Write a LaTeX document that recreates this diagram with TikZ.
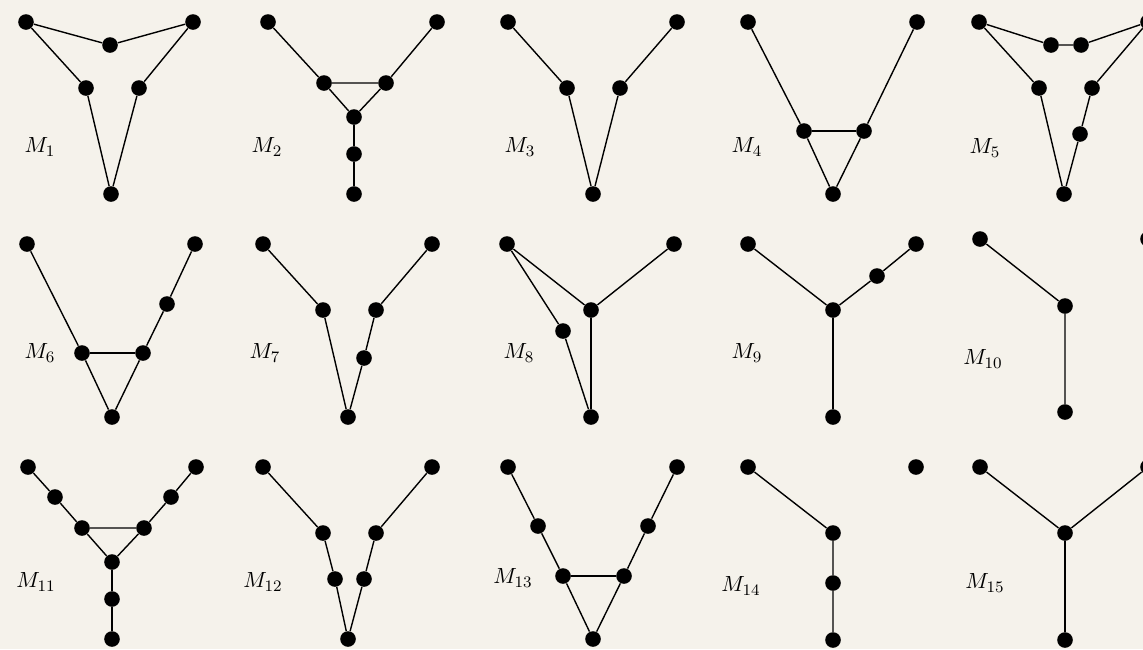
\documentclass[tikz,border=0pt]{standalone}
\usepackage{amsmath,amssymb}
\usepackage{xcolor}
\usepackage{tikz}
\usetikzlibrary{positioning}

\definecolor{paper}{RGB}{245,242,235}

\tikzset{
  vtx/.style={circle, fill=black, inner sep=0pt, minimum size=7.8pt},
  gline/.style={line width=0.7pt},
  lbl/.style={font=\fontsize{11}{13}\selectfont, inner sep=0pt}
}

\begin{document}
\begin{tikzpicture}[x=0.5pt, y=-0.5pt]
        % Paper and frame
        \fill[paper] (0,0) rectangle (1143,649);
        \useasboundingbox (0,0) rectangle (1143,649);
        \clip (0,0) rectangle (1143,649);

        % M1
        \node[vtx] (a1) at (26,22) {};
        \node[vtx] (a2) at (110,45) {};
        \node[vtx] (a3) at (193,22) {};
        \node[vtx] (a4) at (86,88) {};
        \node[vtx] (a5) at (139,88) {};
        \node[vtx] (a6) at (111,194) {};
        \draw[gline] (a1) -- (a2) -- (a3);
        \draw[gline] (a1) -- (a4) -- (a6);
        \draw[gline] (a3) -- (a5) -- (a6);
        \node[lbl] (m1) at (40,147) {$M_1$};

        % M2
        \node[vtx] (b1) at (268,22) {};
        \node[vtx] (b2) at (437,22) {};
        \node[vtx] (b3) at (324,83) {};
        \node[vtx] (b4) at (386,83) {};
        \node[vtx] (b5) at (354,117) {};
        \node[vtx] (b6) at (354,154) {};
        \node[vtx] (b7) at (354,194) {};
        \draw[gline] (b1) -- (b3) -- (b4) -- (b2);
        \draw[gline] (b3) -- (b5) -- (b4);
        \draw[gline] (b5) -- (b6) -- (b7);
        \node[lbl] (m2) at (267,147) {$M_2$};

        % M3
        \node[vtx] (c1) at (508,22) {};
        \node[vtx] (c2) at (677,22) {};
        \node[vtx] (c3) at (567,88) {};
        \node[vtx] (c4) at (620,88) {};
        \node[vtx] (c5) at (593,194) {};
        \draw[gline] (c1) -- (c3) -- (c5) -- (c4) -- (c2);
        \node[lbl] (m3) at (520,147) {$M_3$};

        % M4
        \node[vtx] (d1) at (748,22) {};
        \node[vtx] (d2) at (917,22) {};
        \node[vtx] (d3) at (804,131) {};
        \node[vtx] (d4) at (864,131) {};
        \node[vtx] (d5) at (833,194) {};
        \draw[gline] (d1) -- (d3) -- (d5) -- (d4) -- (d2);
        \draw[gline] (d3) -- (d4);
        \node[lbl] (m4) at (747,147) {$M_4$};

        % M5
        \node[vtx] (e1) at (979,22) {};
        \node[vtx] (e2) at (1051,45) {};
        \node[vtx] (e3) at (1081,45) {};
        \node[vtx] (e4) at (1148,22) {};
        \node[vtx] (e5) at (1039,88) {};
        \node[vtx] (e6) at (1092,88) {};
        \node[vtx] (e7) at (1080,134) {};
        \node[vtx] (e8) at (1064,194) {};
        \draw[gline] (e1) -- (e2) -- (e3) -- (e4);
        \draw[gline] (e1) -- (e5) -- (e8);
        \draw[gline] (e4) -- (e6) -- (e7) -- (e8);
        \node[lbl] (m5) at (985,148) {$M_5$};

        % M6
        \node[vtx] (f1) at (27,244) {};
        \node[vtx] (f2) at (195,244) {};
        \node[vtx] (f3) at (167,304) {};
        \node[vtx] (f4) at (82,353) {};
        \node[vtx] (f5) at (143,353) {};
        \node[vtx] (f6) at (112,417) {};
        \draw[gline] (f1) -- (f4) -- (f6) -- (f5) -- (f3) -- (f2);
        \draw[gline] (f4) -- (f5);
        \node[lbl] (m6) at (40,353) {$M_6$};

        % M7
        \node[vtx] (g1) at (263,244) {};
        \node[vtx] (g2) at (432,244) {};
        \node[vtx] (g3) at (323,310) {};
        \node[vtx] (g4) at (376,310) {};
        \node[vtx] (g5) at (364,358) {};
        \node[vtx] (g6) at (348,417) {};
        \draw[gline] (g1) -- (g3) -- (g6) -- (g5) -- (g4) -- (g2);
        \node[lbl] (m7) at (265,353) {$M_7$};

        % M8
        \node[vtx] (h1) at (507,244) {};
        \node[vtx] (h2) at (674,244) {};
        \node[vtx] (h3) at (591,310) {};
        \node[vtx] (h4) at (563,331) {};
        \node[vtx] (h5) at (591,417) {};
        \draw[gline] (h1) -- (h3) -- (h2);
        \draw[gline] (h3) -- (h5);
        \draw[gline] (h1) -- (h4) -- (h5);
        \node[lbl] (m8) at (519,353) {$M_8$};

        % M9
        \node[vtx] (i1) at (748,244) {};
        \node[vtx] (i2) at (916,244) {};
        \node[vtx] (i3) at (877,276) {};
        \node[vtx] (i4) at (833,310) {};
        \node[vtx] (i5) at (833,417) {};
        \draw[gline] (i1) -- (i4) -- (i3) -- (i2);
        \draw[gline] (i4) -- (i5);
        \node[lbl] (m9) at (747,353) {$M_9$};

        % M10
        \node[vtx] (j1) at (980,239) {};
        \node[vtx] (j2) at (1148,239) {};
        \node[vtx] (j3) at (1065,306) {};
        \node[vtx] (j4) at (1065,412) {};
        \draw[gline] (j1) -- (j3) -- (j4);
        \node[lbl] (m10) at (983,359) {$M_{10}$};

        % M11
        \node[vtx] (k1) at (28,467) {};
        \node[vtx] (k2) at (196,467) {};
        \node[vtx] (k3) at (55,497) {};
        \node[vtx] (k4) at (171,497) {};
        \node[vtx] (k5) at (82,528) {};
        \node[vtx] (k6) at (144,528) {};
        \node[vtx] (k7) at (112,562) {};
        \node[vtx] (k8) at (112,599) {};
        \node[vtx] (k9) at (112,639) {};
        \draw[gline] (k1) -- (k3) -- (k5) -- (k6) -- (k4) -- (k2);
        \draw[gline] (k5) -- (k7) -- (k6);
        \draw[gline] (k7) -- (k8) -- (k9);
        \node[lbl] (m11) at (36,582) {$M_{11}$};

        % M12
        \node[vtx] (l1) at (263,467) {};
        \node[vtx] (l2) at (432,467) {};
        \node[vtx] (l3) at (323,533) {};
        \node[vtx] (l4) at (376,533) {};
        \node[vtx] (l5) at (335,579) {};
        \node[vtx] (l6) at (364,579) {};
        \node[vtx] (l7) at (348,639) {};
        \draw[gline] (l1) -- (l3) -- (l5) -- (l7) -- (l6) -- (l4) -- (l2);
        \node[lbl] (m12) at (263,582) {$M_{12}$};

        % M13
        \node[vtx] (n1) at (508,467) {};
        \node[vtx] (n2) at (677,467) {};
        \node[vtx] (n3) at (538,526) {};
        \node[vtx] (n4) at (648,526) {};
        \node[vtx] (n5) at (563,576) {};
        \node[vtx] (n6) at (624,576) {};
        \node[vtx] (n7) at (593,639) {};
        \draw[gline] (n1) -- (n3) -- (n5) -- (n7) -- (n6) -- (n4) -- (n2);
        \draw[gline] (n5) -- (n6);
        \node[lbl] (m13) at (513,578) {$M_{13}$};

        % M14
        \node[vtx] (o1) at (748,467) {};
        \node[vtx] (o2) at (916,467) {};
        \node[vtx] (o3) at (833,533) {};
        \node[vtx] (o4) at (833,583) {};
        \node[vtx] (o5) at (833,640) {};
        \draw[gline] (o1) -- (o3) -- (o4) -- (o5);
        \node[lbl] (m14) at (741,586) {$M_{14}$};

        % M15
        \node[vtx] (p1) at (980,467) {};
        \node[vtx] (p2) at (1148,467) {};
        \node[vtx] (p3) at (1065,533) {};
        \node[vtx] (p4) at (1065,640) {};
        \draw[gline] (p1) -- (p3) -- (p2);
        \draw[gline] (p3) -- (p4);
        \node[lbl] (m15) at (985,583) {$M_{15}$};
    \end{tikzpicture}
\end{document}
